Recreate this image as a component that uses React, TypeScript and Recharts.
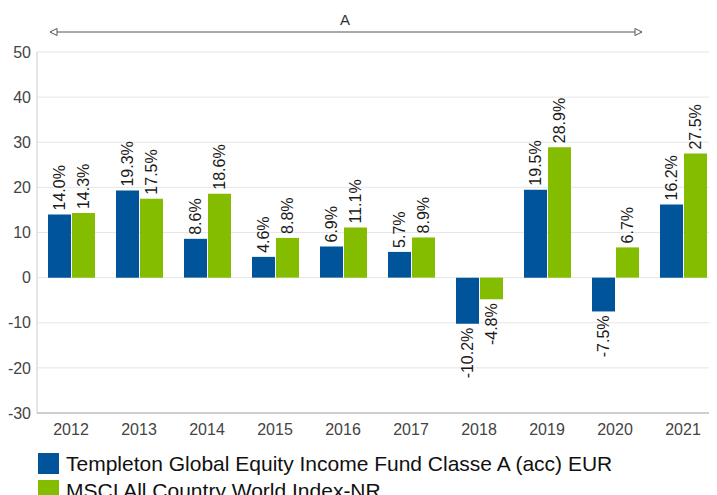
import { Bar, BarChart, CartesianGrid, LabelList, XAxis, YAxis } from 'recharts'

const years = ['2012', '2013', '2014', '2015', '2016', '2017', '2018', '2019', '2020', '2021']
const fundReturns = [14.0, 19.3, 8.6, 4.6, 6.9, 5.7, -10.2, 19.5, -7.5, 16.2]
const indexReturns = [14.3, 17.5, 18.6, 8.8, 11.1, 8.9, -4.8, 28.9, 6.7, 27.5]
const yTicks = [-30, -20, -10, 0, 10, 20, 30, 40, 50]

const fundName = 'Templeton Global Equity Income Fund Classe A (acc) EUR'
const indexName = 'MSCI All Country World Index-NR'

const BLUE = '#00559a'
const GREEN = '#84bd00'
const FONT = '"Liberation Sans", Arial, sans-serif'

const data = years.map((year, i) => ({
  year,
  fund: fundReturns[i],
  index: indexReturns[i],
}))

// rotated value label, above positive bars and below negative ones
const BarLabel = (props: any) => {
  const { x, y, width, height, value } = props
  if (value == null) return null
  const cx = Number(x) + Number(width) / 2
  const top = Math.min(Number(y), Number(y) + Number(height))
  const bottom = Math.max(Number(y), Number(y) + Number(height))
  const neg = Number(value) < 0
  const ly = neg ? bottom + 4 : top - 4
  return (
    <text
      x={cx}
      y={ly}
      transform={`rotate(-90 ${cx} ${ly})`}
      textAnchor={neg ? 'end' : 'start'}
      dominantBaseline="central"
      fontSize={16}
      fontFamily={FONT}
      fill="#1a1a1a"
    >
      {Number(value).toFixed(1) + '%'}
    </text>
  )
}

const App = () => {
  return (
    <div style={{ position: 'relative', margin: -8, width: 717, fontFamily: FONT }}>
      {/* period annotation above the plot */}
      <svg width={717} height={50} style={{ position: 'absolute', left: 0, top: 0 }}>
        <line x1={50} y1={32} x2={642} y2={32} stroke="#555" strokeWidth={1} />
        <polygon points="50,32 57,28.5 57,35.5" fill="#fff" stroke="#555" strokeWidth={1} />
        <polygon points="642,32 635,28.5 635,35.5" fill="#fff" stroke="#555" strokeWidth={1} />
        <text x={345} y={25} textAnchor="middle" fontSize={15} fill="#333" fontFamily={FONT}>
          A
        </text>
      </svg>
      <BarChart
        width={717}
        height={443}
        data={data}
        margin={{ top: 52, right: 0, bottom: 0, left: 0 }}
        barSize={23}
        barGap={1}
      >
        <CartesianGrid vertical={false} stroke="#e6e6e6" />
        <XAxis
          dataKey="year"
          height={30}
          axisLine={{ stroke: '#aaa' }}
          tickLine={false}
          tick={{ fill: '#444', fontSize: 16, fontFamily: FONT, dy: 3 }}
        />
        <YAxis
          width={37}
          domain={[-30, 50]}
          ticks={yTicks}
          interval={0}
          axisLine={{ stroke: '#ccc' }}
          tickLine={false}
          tick={{ fill: '#444', fontSize: 16, fontFamily: FONT, dx: 2 }}
        />
        <Bar dataKey="fund" name={fundName} fill={BLUE} isAnimationActive={false}>
          <LabelList dataKey="fund" content={BarLabel} />
        </Bar>
        <Bar dataKey="index" name={indexName} fill={GREEN} isAnimationActive={false}>
          <LabelList dataKey="index" content={BarLabel} />
        </Bar>
      </BarChart>
      <div style={{ marginTop: 7, marginLeft: 38 }}>
        {[
          { name: fundName, color: BLUE },
          { name: indexName, color: GREEN },
        ].map((item) => (
          <div key={item.name} style={{ display: 'flex', alignItems: 'center', height: 27 }}>
            <span style={{ width: 21, height: 21, background: item.color, display: 'inline-block' }} />
            <span style={{ marginLeft: 7, fontSize: 21, color: '#111' }}>{item.name}</span>
          </div>
        ))}
      </div>
    </div>
  )
}

export default App
